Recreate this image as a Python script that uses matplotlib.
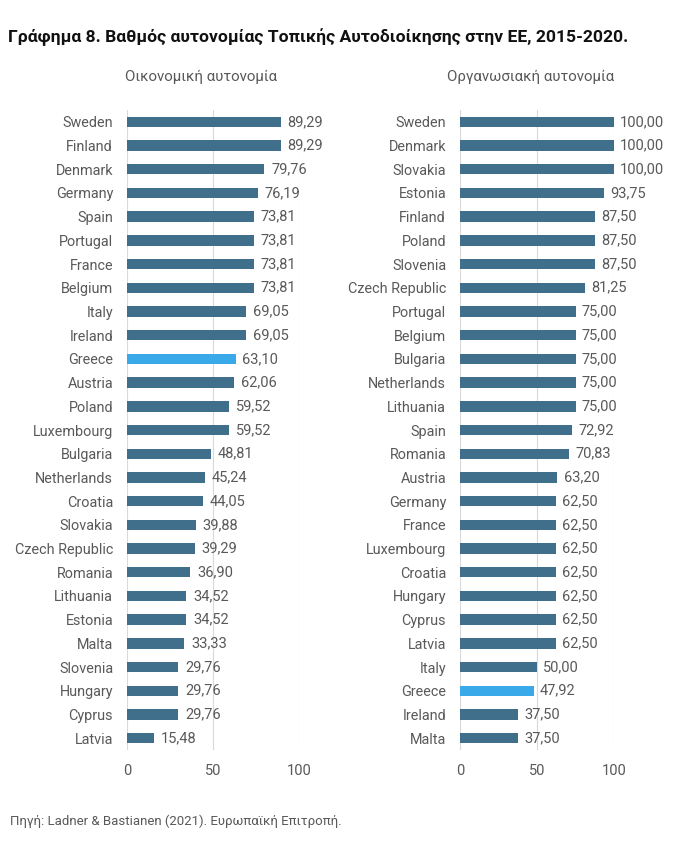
import matplotlib.pyplot as plt

fin_countries = [
    "Sweden", "Finland", "Denmark", "Germany", "Spain", "Portugal", "France",
    "Belgium", "Italy", "Ireland", "Greece", "Austria", "Poland", "Luxembourg",
    "Bulgaria", "Netherlands", "Croatia", "Slovakia", "Czech Republic",
    "Romania", "Lithuania", "Estonia", "Malta", "Slovenia", "Hungary",
    "Cyprus", "Latvia",
]
fin_values = [
    89.29, 89.29, 79.76, 76.19, 73.81, 73.81, 73.81, 73.81, 69.05, 69.05,
    63.10, 62.06, 59.52, 59.52, 48.81, 45.24, 44.05, 39.88, 39.29, 36.90,
    34.52, 34.52, 33.33, 29.76, 29.76, 29.76, 15.48,
]

org_countries = [
    "Sweden", "Denmark", "Slovakia", "Estonia", "Finland", "Poland",
    "Slovenia", "Czech Republic", "Portugal", "Belgium", "Bulgaria",
    "Netherlands", "Lithuania", "Spain", "Romania", "Austria", "Germany",
    "France", "Luxembourg", "Croatia", "Hungary", "Cyprus", "Latvia",
    "Italy", "Greece", "Ireland", "Malta",
]
org_values = [
    100.00, 100.00, 100.00, 93.75, 87.50, 87.50, 87.50, 81.25, 75.00, 75.00,
    75.00, 75.00, 75.00, 72.92, 70.83, 63.20, 62.50, 62.50, 62.50, 62.50,
    62.50, 62.50, 62.50, 50.00, 47.92, 37.50, 37.50,
]

BAR = "#3f6f8a"
HIGHLIGHT = "#3aa9e9"
TEXT = "#595959"
GRID = "#d9d9d9"

plt.rcParams["font.family"] = ["Roboto", "DejaVu Sans"]

fig = plt.figure(figsize=(6.91, 8.43), dpi=100)
ax_left = fig.add_axes([0.1838, 0.1103, 0.249, 0.7592])
ax_right = fig.add_axes([0.6657, 0.1103, 0.2229, 0.7592])


def draw_panel(ax, countries, values):
    ypos = list(range(len(countries)))
    colors = [HIGHLIGHT if c == "Greece" else BAR for c in countries]
    ax.barh(ypos, values, height=0.44, color=colors, zorder=3)
    for y, v in zip(ypos, values):
        ax.text(v + 4, y, f"{v:.2f}".replace(".", ","), va="center",
                ha="left", fontsize=10.5, color=TEXT, clip_on=False)
    ax.set_yticks(ypos)
    ax.set_yticklabels(countries, fontsize=10.4, color=TEXT)
    ax.set_ylim(len(countries) - 0.5, -0.5)
    ax.set_xlim(0, 100)
    ax.set_xticks([0, 50, 100])
    ax.tick_params(axis="x", labelsize=10.5, colors=TEXT, length=0, pad=10)
    ax.tick_params(axis="y", length=0, pad=10)
    ax.grid(axis="x", color=GRID, linewidth=0.8, zorder=0)
    for s in ax.spines.values():
        s.set_visible(False)


draw_panel(ax_left, fin_countries, fin_values)
draw_panel(ax_right, org_countries, org_values)

fig.text(0.012, 0.956, "Γράφημα 8. Βαθμός αυτονομίας Τοπικής Αυτοδιοίκησης στην ΕΕ, 2015-2020.",
         fontsize=12.6, fontweight="bold", color="#111111", ha="left", va="center")
fig.text(0.291, 0.909, "Οικονομική αυτονομία", fontsize=10.8, color=TEXT,
         ha="center", va="center")
fig.text(0.768, 0.909, "Οργανωσιακή αυτονομία", fontsize=10.8, color=TEXT,
         ha="center", va="center")
fig.text(0.014, 0.026, "Πηγή: Ladner & Bastianen (2021). Ευρωπαϊκή Επιτροπή.",
         fontsize=9.5, color=TEXT, ha="left", va="center")

fig.savefig("out.png", dpi=100)
